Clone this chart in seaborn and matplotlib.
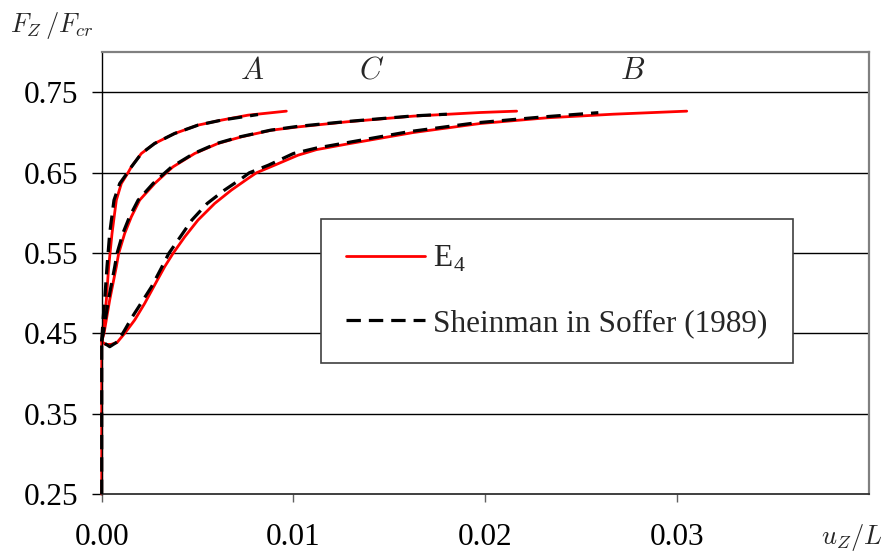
import numpy as np
import pandas as pd
import matplotlib
matplotlib.use("Agg")
import matplotlib.pyplot as plt
import seaborn as sns
from matplotlib.lines import Line2D

# ---------------- data ----------------
# E4 (red, solid)
e4_A_x = [0, 0.00005, 0.000155, 0.000242, 0.000364, 0.000538, 0.000763, 0.001024, 0.001372, 0.001545, 0.002067,
          0.002763, 0.003806, 0.005022, 0.006239, 0.00763, 0.009629]
e4_A_y = [0.44, 0.455, 0.4706, 0.4913, 0.5328, 0.5742, 0.6157, 0.6364, 0.6497, 0.6571, 0.6737,
          0.6862, 0.6986, 0.7090, 0.7152, 0.7214, 0.7264]

e4_C_x = [0, 0.00012, 0.000416, 0.000763, 0.000885, 0.001198, 0.001545, 0.00198, 0.002763, 0.003371, 0.003719,
          0.004849, 0.006065, 0.007282, 0.008847, 0.010238, 0.01278, 0.01625, 0.01973, 0.02164]
e4_C_y = [0.44, 0.4499, 0.4913, 0.5328, 0.5494, 0.5742, 0.5949, 0.6157, 0.6364, 0.6497, 0.6571,
          0.6737, 0.6862, 0.6944, 0.7027, 0.7068, 0.7131, 0.7202, 0.7247, 0.7264]

e4_B_x = [0, 0, 0.0002, 0.0005, 0.0008, 0.0012, 0.00172, 0.00224, 0.00276, 0.003284, 0.00372, 0.00433, 0.00502,
          0.00589, 0.00676, 0.00763, 0.00807, 0.00902, 0.01024, 0.0112, 0.0128, 0.01625, 0.01973, 0.02321,
          0.02668, 0.03051]
e4_B_y = [0.25, 0.44, 0.436, 0.4362, 0.4385, 0.4499, 0.4665, 0.4871, 0.51, 0.5328, 0.5494, 0.57, 0.5908,
          0.6115, 0.6281, 0.6426, 0.6497, 0.6592, 0.6716, 0.6785, 0.6855, 0.6998, 0.711, 0.7181,
          0.7226, 0.7264]

# Sheinman in Soffer (1989) (black, dashed)
sh_A_x = [0, 0.00008, 0.000155, 0.000277, 0.000416, 0.000641, 0.00094, 0.00134, 0.00155, 0.00207, 0.00276,
          0.0038, 0.00502, 0.00624, 0.00815]
sh_A_y = [0.44, 0.47, 0.4913, 0.5328, 0.5742, 0.6157, 0.6364, 0.6497, 0.6571, 0.6737, 0.6862,
          0.6986, 0.709, 0.7152, 0.7222]

sh_C_x = [0, 0.00008, 0.00035, 0.00068, 0.0008, 0.0011, 0.00145, 0.0019, 0.00268, 0.0033, 0.00365, 0.0048,
          0.006, 0.0072, 0.0088, 0.01024, 0.0128, 0.01625, 0.018]
sh_C_y = [0.44, 0.4499, 0.4913, 0.5328, 0.5494, 0.5742, 0.5949, 0.6157, 0.6364, 0.6497, 0.6571, 0.6737,
          0.6862, 0.6944, 0.7027, 0.7075, 0.7135, 0.7205, 0.7226]

sh_B_x = [0, 0, 0.00042, 0.00085, 0.0012, 0.0016, 0.0021, 0.0026, 0.0031, 0.0035, 0.0041, 0.0047,
          0.0055, 0.0064, 0.0073, 0.0077, 0.0087, 0.0100, 0.0112, 0.0127, 0.016, 0.0195, 0.023, 0.0259]
sh_B_y = [0.25, 0.44, 0.4333, 0.4399, 0.454, 0.4706, 0.4892, 0.5079, 0.5307, 0.5494, 0.57, 0.5908,
          0.6115, 0.6281, 0.6426, 0.6497, 0.6592, 0.6737, 0.6805, 0.6868, 0.7008, 0.7118, 0.7192, 0.7245]

curve_labels = ["A", "C", "B"]
curve_label_x = [0.00784, 0.01408, 0.02771]
curve_label_y = [0.776, 0.776, 0.776]

y_ticks = [0.25, 0.35, 0.45, 0.55, 0.65, 0.75]
x_ticks = [0.00, 0.01, 0.02, 0.03]
legend_labels = ["E$_\\mathregular{4}$", "Sheinman in Soffer (1989)"]

# ---------------- build frames ----------------
def frame(xs, ys, name):
    return pd.DataFrame({"x": xs, "y": ys, "curve": name})

df_e4 = pd.concat([frame(e4_A_x, e4_A_y, "A"), frame(e4_C_x, e4_C_y, "C"), frame(e4_B_x, e4_B_y, "B")])
df_sh = pd.concat([frame(sh_A_x, sh_A_y, "A"), frame(sh_C_x, sh_C_y, "C"), frame(sh_B_x, sh_B_y, "B")])

# ---------------- style ----------------
sns.set_theme(style="white")
plt.rcParams["font.family"] = ["Liberation Serif", "DejaVu Serif"]
plt.rcParams["mathtext.fontset"] = "cm"

fig = plt.figure(figsize=(8.88, 5.54), dpi=100)
ax = fig.add_axes([101.7 / 888, 1 - 494 / 554, (868.7 - 101.7) / 888, (494 - 52) / 554])

RED_LW = 2.0
BLK_LW = 2.3
DASH = (4.5, 2.5)

sns.lineplot(data=df_e4, x="x", y="y", units="curve", estimator=None, sort=False,
             color="#ff0000", linewidth=RED_LW, ax=ax, legend=False)
n_red = len(ax.get_lines())
sns.lineplot(data=df_sh, x="x", y="y", units="curve", estimator=None, sort=False,
             color="black", linewidth=BLK_LW, ax=ax, legend=False)
for i, ln in enumerate(ax.get_lines()):
    ln.set_clip_on(False)
    ln.set_solid_joinstyle("round")
    if i >= n_red:
        ln.set_dashes(DASH)
        ln.set_zorder(3)
    else:
        ln.set_zorder(2.5)

ax.set_xlim(0, 0.04)
ax.set_ylim(0.25, 0.80)
ax.set_xticks(x_ticks)
ax.set_yticks(y_ticks)
ax.set_xticklabels([f"{v:.2f}" for v in x_ticks])
ax.set_yticklabels([f"{v:.2f}" for v in y_ticks])
ax.set_xlabel("")
ax.set_ylabel("")
ax.tick_params(axis="both", labelsize=22.5, labelcolor="black")
ax.tick_params(axis="y", direction="out", length=7, width=1, pad=10, left=True, color="black")
ax.tick_params(axis="x", direction="out", length=6, width=1, pad=15, bottom=True, color="#606060")

for yv in y_ticks[1:]:
    ax.axhline(yv, color="black", linewidth=1.0, zorder=0)

for side in ["top", "right"]:
    ax.spines[side].set_color("#808080")
    ax.spines[side].set_linewidth(1.6)
ax.spines["left"].set_color("black")
ax.spines["left"].set_linewidth(1.0)
ax.spines["bottom"].set_color("#303030")
ax.spines["bottom"].set_linewidth(1.3)

for lab, lx, ly in zip(curve_labels, curve_label_x, curve_label_y):
    ax.text(lx, ly, f"${lab}$", fontsize=22, ha="center", va="center")

handles = [Line2D([], [], color="#ff0000", linewidth=RED_LW),
           Line2D([], [], color="black", linewidth=BLK_LW, dashes=DASH)]
leg = ax.legend(handles, legend_labels, loc="upper left", bbox_to_anchor=(0.2855, 0.622),
                borderaxespad=0, fontsize=22.5, frameon=True, fancybox=False,
                edgecolor="#404040", framealpha=1, handlelength=2.55, handletextpad=0.25,
                labelspacing=1.1, borderpad=0.8)
leg.get_frame().set_linewidth(1.2)

fig.text(10 / 888, 1 - 32 / 554, r"$F_Z\,/F_{cr}$", fontsize=19, ha="left", va="baseline")
fig.text(821 / 888, 1 - 544 / 554, r"$u_Z/L$", fontsize=19, ha="left", va="baseline")

fig.savefig("out.png", dpi=100)
